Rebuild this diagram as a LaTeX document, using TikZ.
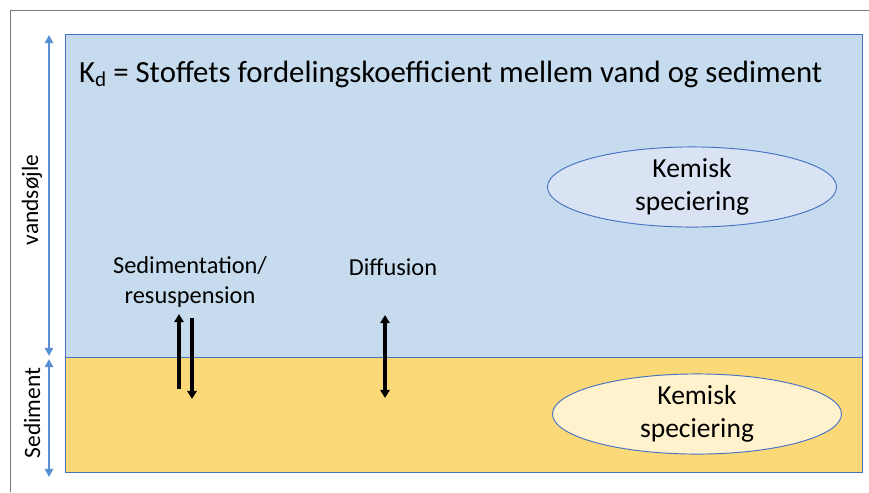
\documentclass[tikz,border=0pt]{standalone}
\usepackage{fontspec}
\setmainfont{Carlito}
\usetikzlibrary{arrows.meta,shapes.geometric}
\definecolor{water}{RGB}{198,220,238}
\definecolor{sedim}{RGB}{251,216,120}
\definecolor{edgeblue}{RGB}{68,114,196}
\definecolor{sideblue}{RGB}{88,142,212}
\definecolor{waterell}{RGB}{218,227,243}
\definecolor{sedell}{RGB}{255,242,204}
\definecolor{framegray}{RGB}{120,120,120}

\begin{document}
\begin{tikzpicture}[x=0.03cm,y=-0.03cm,
  layer/.style={draw=edgeblue,line width=0.8pt,inner sep=0pt,outer sep=0pt,minimum width=23.91cm},
  spec/.style={ellipse,draw=edgeblue,line width=0.8pt,minimum width=8.67cm,minimum height=2.13cm,align=center,inner sep=0pt,font=\fontsize{23.5}{28}\selectfont},
  side/.style={rotate=90,font=\fontsize{20}{24}\selectfont},
  flux/.style={line width=3.2pt,-{Triangle[width=8pt,length=7pt]}},
  span/.style={sideblue,line width=1.8pt,{Triangle[width=7pt,length=7pt]}-{Triangle[width=7pt,length=7pt]}}]
\useasboundingbox (0,0) rectangle (869,492);
% outer frame
\draw[framegray,line width=0.7pt] (869,10) -- (10,10) -- (10,492);

% water column and sediment
\node[layer,fill=water,minimum height=9.69cm] (water) at (463.5,195.5) {};
\node[layer,fill=sedim,minimum height=3.45cm] (sed) at (463.5,414.5) {};

% heading
\node[anchor=base west,inner sep=0pt,font=\fontsize{26.3}{30}\selectfont] (kd) at (79,82)
  {K\raisebox{-0.3ex}{\fontsize{18}{20}\selectfont d} = Stoffets fordelingskoefficient mellem vand og sediment};

% speciation
\node[spec,fill=waterell] (specw) at (692,187) {Kemisk\\speciering};
\node[spec,fill=sedell] (specs) at (697,414) {Kemisk\\speciering};

% side scales
\coordinate (wtop) at (49,35);
\coordinate (wbot) at (49,356);
\coordinate (stop) at (49,359);
\coordinate (sbot) at (49,477);
\draw[span] (wtop) -- (wbot);
\draw[span] (stop) -- (sbot);
\node[side] (vlab) at (32,200) {vandsøjle};
\node[side] (slab) at (32,413) {Sediment};

% fluxes
\node[align=center,font=\fontsize{20.8}{25}\selectfont] (sedlab) at (190,282) {Sedimentation/\\resuspension};
\node[font=\fontsize{20.8}{25}\selectfont] (diflab) at (393,267) {Diffusion};
\coordinate (up0) at (179,389);
\coordinate (up1) at (179,314);
\coordinate (dn0) at (192,318);
\coordinate (dn1) at (192,399);
\coordinate (df0) at (385,315);
\coordinate (df1) at (385,398);
\draw[flux] (up0) -- (up1);
\draw[flux] (dn0) -- (dn1);
\draw[flux,{Triangle[width=8pt,length=7pt]}-{Triangle[width=8pt,length=7pt]}] (df0) -- (df1);
\end{tikzpicture}
\end{document}
